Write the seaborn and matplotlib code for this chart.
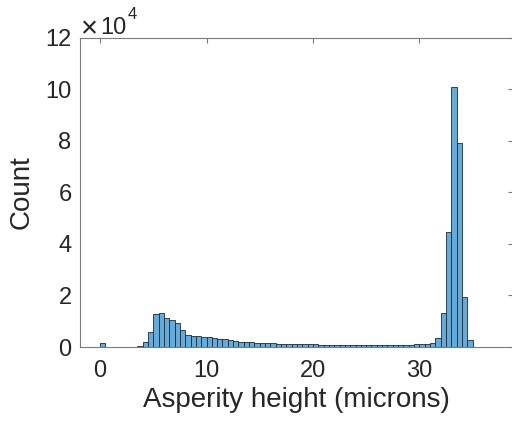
import numpy as np
import pandas as pd
import matplotlib
matplotlib.use("Agg")
import matplotlib.pyplot as plt
import seaborn as sns
from matplotlib.ticker import FuncFormatter

# Histogram of asperity heights: counts per 0.5-micron bin, first bin starts at 0
bin_start = 0.0
bin_width = 0.5
counts = [
    1700, 0, 0, 0, 0, 30, 60, 450, 1950, 5700,
    12800, 13300, 11300, 10500, 9300, 6600, 4700, 4300, 4250, 4000,
    3900, 3400, 3100, 3000, 2600, 2350, 2100, 1950, 1800, 1700,
    1550, 1500, 1400, 1350, 1280, 1220, 1150, 1100, 1050, 1000,
    980, 950, 920, 900, 880, 860, 850, 840, 830, 820,
    820, 820, 830, 840, 850, 860, 880, 900, 930, 980,
    1050, 1200, 1600, 3600, 13200, 44500, 101000, 79100, 19300, 2800,
    80, 0, 0, 0,
]
x_ticks = [0, 10, 20, 30]
y_ticks = [0, 2, 4, 6, 8, 10, 12]
y_scale = 1e4

edges = bin_start + bin_width * np.arange(len(counts) + 1)
df = pd.DataFrame({"height": edges[:-1] + bin_width / 2, "count": counts})

sns.set_theme(style="white")
plt.rcParams["font.family"] = ["Liberation Sans", "DejaVu Sans"]

text_color = "#262626"
axis_color = "#7a7a7a"

fig = plt.figure(figsize=(5.12, 4.24), dpi=100)
# right edge of the box sits just past the canvas edge
ax = fig.add_axes([0.156, 0.1816, 0.846, 0.7288])

sns.histplot(
    data=df, x="height", weights="count", bins=list(edges), ax=ax,
    color="#66aad7", alpha=1.0, edgecolor="#1c2b3a", linewidth=0.6,
)

ax.set_xlim(-1.9, 38.8)
ax.set_ylim(0, 12 * y_scale)
ax.set_xticks(x_ticks)
ax.set_yticks([v * y_scale for v in y_ticks])
ax.yaxis.set_major_formatter(FuncFormatter(lambda v, p: f"{v / y_scale:g}"))

for side in ["left", "right", "top", "bottom"]:
    ax.spines[side].set_visible(True)
    ax.spines[side].set_color(axis_color)
    ax.spines[side].set_linewidth(0.8)

ax.tick_params(
    axis="both", direction="in", length=3.5, width=0.8, color=axis_color,
    top=True, right=True, labelsize=17, labelcolor=text_color,
)
ax.tick_params(axis="x", pad=9)
ax.tick_params(axis="y", pad=6)

ax.set_xlabel("Asperity height (microns)", fontsize=20, color=text_color, labelpad=4)
ax.set_ylabel("Count", fontsize=20, color=text_color, labelpad=8)

# exponent marker above the y axis: "×10" with a raised "4"
for txt, size, dx, dy in [("\u00d7", 21, 1, 1), ("10", 17, 20, 4), ("4", 12, 48, 19)]:
    ax.annotate(txt, xy=(0, 1), xycoords="axes fraction", xytext=(dx, dy),
                textcoords="offset pixels", fontsize=size, color=text_color,
                ha="left", va="baseline")

fig.savefig("out.png", dpi=100)
